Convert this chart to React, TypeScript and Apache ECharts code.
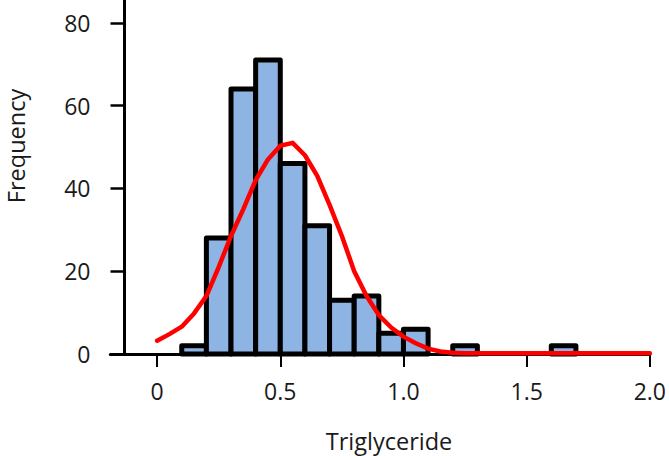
import React, { useEffect, useRef } from "react";
import * as echarts from "echarts";

// Histogram bins (left edges) and frequencies
const binWidth = 0.1;
const binStarts = [0.1, 0.2, 0.3, 0.4, 0.5, 0.6, 0.7, 0.8, 0.9, 1.0, 1.2, 1.6];
const counts = [2, 28, 64, 71, 46, 31, 13, 14, 5, 6, 2, 2];

// Fitted normal curve
const curveX = [0, 0.05, 0.1, 0.15, 0.2, 0.25, 0.3, 0.35, 0.4, 0.45, 0.5, 0.55, 0.6, 0.65, 0.7, 0.75, 0.8, 0.85, 0.9, 0.95, 1.0, 1.05, 1.1, 1.15, 1.2, 1.25, 1.3, 1.4, 1.5, 1.6, 1.7, 1.8, 1.9, 2.0];
const curveY = [3.2, 4.8, 6.6, 9.8, 14, 21, 28.5, 35, 42, 47, 50.3, 51, 48, 43, 36, 28.5, 20, 14, 9.4, 6.4, 4.2, 2.6, 1.3, 0.6, 0.3, 0.2, 0.2, 0.2, 0.2, 0.2, 0.2, 0.2, 0.2, 0.2];

const xTicks = [0, 0.5, 1.0, 1.5, 2.0];
const yTicks = [0, 20, 40, 60, 80];

const FONT = "'Open Sans', 'Noto Sans', sans-serif";
const TEXT = "#1a1a1a";

export default function App() {
  const ref = useRef<HTMLDivElement>(null);
  useEffect(() => {
    if (!ref.current) return;
    const chart = echarts.init(ref.current, undefined, { renderer: "svg" });
    const bars = binStarts.map((s, i) => [s, +(s + binWidth).toFixed(2), counts[i]]);
    const curve = curveX.map((x, i) => [x, curveY[i]]);
    chart.setOption({
      animation: false,
      backgroundColor: "#ffffff",
      grid: { left: 110.3, top: 0, width: 544.2, height: 354, containLabel: false },
      xAxis: {
        type: "value",
        min: -0.19,
        max: 2.0,
        splitLine: { show: false },
        axisLine: { show: true, onZero: false, lineStyle: { color: "#000", width: 3 } },
        axisTick: { show: true, customValues: xTicks, length: 13, lineStyle: { color: "#000", width: 2 } },
        axisLabel: {
          customValues: xTicks,
          formatter: (v: number) => (v === 0 ? "0" : v.toFixed(1)),
          fontSize: 23,
          fontFamily: FONT,
          color: TEXT,
          margin: 25,
        },
      },
      yAxis: {
        type: "value",
        min: 0,
        max: 85.5,
        offset: -14.2,
        splitLine: { show: false },
        axisLine: { show: true, onZero: false, lineStyle: { color: "#000", width: 3 } },
        axisTick: { show: true, customValues: yTicks, length: 14, lineStyle: { color: "#000", width: 2.5 } },
        axisLabel: {
          customValues: yTicks,
          fontSize: 23,
          fontFamily: FONT,
          color: TEXT,
          margin: 34,
        },
      },
      graphic: [
        {
          type: "text",
          x: 16,
          y: 146,
          rotation: Math.PI / 2,
          style: { text: "Frequency", fontSize: 23.5, fontFamily: FONT, fill: TEXT, align: "center", verticalAlign: "middle" },
        },
        {
          type: "text",
          x: 389,
          y: 441,
          style: { text: "Triglyceride", fontSize: 23.5, fontFamily: FONT, fill: TEXT, align: "center", verticalAlign: "middle" },
        },
      ],
      series: [
        {
          type: "custom",
          data: bars,
          encode: { x: [0, 1], y: 2 },
          z: 2,
          renderItem: (params: any, api: any) => {
            const p0 = api.coord([api.value(0), api.value(2)]);
            const p1 = api.coord([api.value(1), 0]);
            return {
              type: "rect",
              shape: { x: p0[0], y: p0[1], width: p1[0] - p0[0], height: p1[1] - p0[1] },
              style: { fill: "#8DB4E2", stroke: "#000", lineWidth: 5, lineJoin: "round" },
            };
          },
        },
        {
          type: "line",
          data: curve,
          symbol: "none",
          smooth: false,
          z: 3,
          lineStyle: { color: "#ff0000", width: 4.5, join: "round", cap: "round" },
        },
      ],
    });
    return () => chart.dispose();
  }, []);
  return <div ref={ref} style={{ position: "absolute", left: 0, top: 0, width: 669, height: 456 }} />;
}
